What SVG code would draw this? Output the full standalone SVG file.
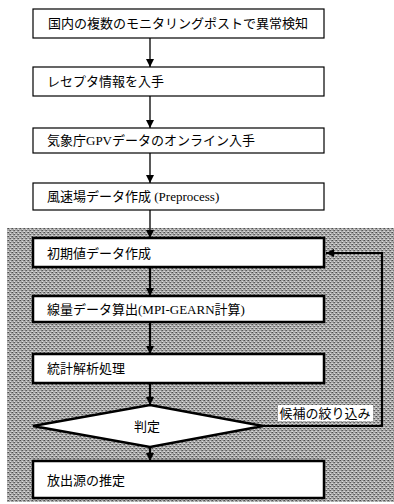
<svg xmlns="http://www.w3.org/2000/svg" width="394" height="504" viewBox="0 0 394 504">
<defs>
<pattern id="dither" width="4" height="4" patternUnits="userSpaceOnUse">
<rect width="4" height="4" fill="#a9a9a9"/>
<rect x="0" y="0" width="1" height="1" fill="#4e4e4e"/>
<rect x="2" y="2" width="1" height="1" fill="#5a5a5a"/>
<rect x="1" y="2" width="1" height="1" fill="#7a7a7a"/>
<rect x="3" y="0" width="1" height="1" fill="#7a7a7a"/>
<rect x="2" y="1" width="1" height="1" fill="#dcdcdc"/>
<rect x="0" y="3" width="1" height="1" fill="#dcdcdc"/>
<rect x="3" y="3" width="1" height="1" fill="#c8c8c8"/>
</pattern>
<marker id="ah" viewBox="0 0 8 8" refX="8" refY="4" markerWidth="8" markerHeight="8" markerUnits="userSpaceOnUse" orient="auto">
<path d="M0,0 L8,4 L0,8 Z" fill="#000"/>
</marker>
</defs>
<style>
.thin{fill:#fff;stroke:#000;stroke-width:1.2}
.thick{fill:#fff;stroke:#000;stroke-width:2.5}
text{font-family:"Liberation Serif","Noto Sans CJK JP",serif;font-size:13px;fill:#000}
.c{text-anchor:middle}
.conn{stroke:#000;stroke-width:1.3;fill:none}
.conn2{stroke:#000;stroke-width:2.2;fill:none}
</style>
<rect x="0" y="0" width="394" height="504" fill="#fff"/>
<rect id="background-region" x="7" y="228" width="387" height="274" fill="url(#dither)"/>

<g id="connectors">
<line class="conn" x1="150" y1="38" x2="150" y2="67" marker-end="url(#ah)"/>
<line class="conn" x1="150" y1="96" x2="150" y2="128" marker-end="url(#ah)"/>
<line class="conn" x1="150" y1="153" x2="150" y2="183" marker-end="url(#ah)"/>
<line class="conn" x1="150" y1="210" x2="150" y2="238" marker-end="url(#ah)"/>
<line class="conn2" x1="150" y1="267" x2="150" y2="296" marker-end="url(#ah)"/>
<line class="conn2" x1="150" y1="322" x2="150" y2="354" marker-end="url(#ah)"/>
<line class="conn2" x1="150" y1="383" x2="150" y2="405" marker-end="url(#ah)"/>
<line class="conn2" x1="150" y1="447" x2="150" y2="461" marker-end="url(#ah)"/>
<polyline class="conn2" points="263,426 382,426 382,253 326,253" marker-end="url(#ah)"/>
<g id="loop-label">
<rect x="278" y="405" width="95" height="16" fill="#fff"/>
<text x="325" y="418" class="c">候補の絞り込み</text>
</g>
</g>

<g id="n1"><rect class="thin" x="33" y="9" width="291" height="29"/><text x="178" y="28" class="c">国内の複数のモニタリングポストで異常検知</text></g>
<g id="n2"><rect class="thin" x="33" y="67" width="291" height="29"/><text x="47" y="86">レセプタ情報を入手</text></g>
<g id="n3"><rect class="thin" x="33" y="128" width="291" height="25"/><text x="47" y="145">気象庁GPVデータのオンライン入手</text></g>
<g id="n4"><rect class="thin" x="33" y="183" width="291" height="27"/><text x="47" y="201">風速場データ作成 (Preprocess)</text></g>
<g id="n5"><rect class="thick" x="33" y="238" width="291" height="29"/><text x="47" y="258">初期値データ作成</text></g>
<g id="n6"><rect class="thick" x="33" y="296" width="291" height="26"/><text x="47" y="314">線量データ算出(MPI-GEARN計算)</text></g>
<g id="n7"><rect class="thick" x="33" y="354" width="291" height="29"/><text x="47" y="373">統計解析処理</text></g>
<g id="n8"><polygon class="thick" points="150,405 263,426 150,447 33,426"/><text x="147" y="431" class="c">判定</text></g>
<g id="n9"><rect class="thick" x="33" y="461" width="291" height="37"/><text x="47" y="485">放出源の推定</text></g>
</svg>
